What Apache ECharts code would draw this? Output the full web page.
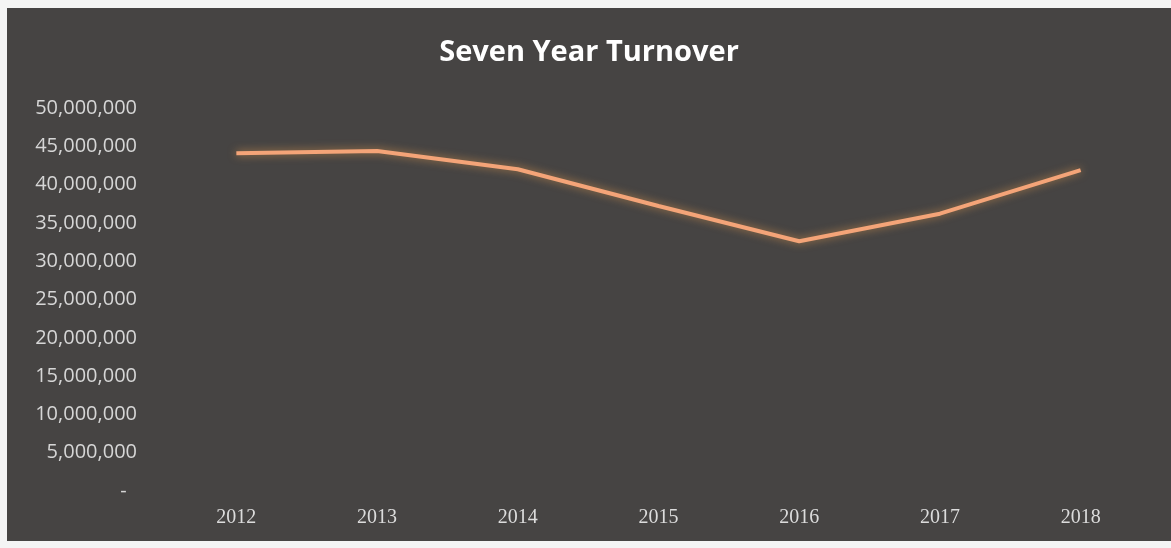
<!DOCTYPE html>
<html>
<head>
<meta charset="utf-8">
<style>
  html, body { margin: 0; padding: 0; background: #f4f4f4; }
  #chart { position: absolute; left: 7px; top: 8px; width: 1164px; height: 533px; background: #464443; }
</style>
<script src="https://cdn.jsdelivr.net/npm/echarts@6/dist/echarts.min.js"></script>
</head>
<body>
<div id="chart"></div>
<script>
const years = ['2012', '2013', '2014', '2015', '2016', '2017', '2018']
const turnover = [44100000, 44400000, 42000000, 37200000, 32600000, 36200000, 41900000]
const yMin = 0
const yMax = 50000000
const yStep = 5000000

const chart = echarts.init(document.getElementById('chart'))

const option = {
  backgroundColor: '#464443',
  title: {
    text: 'Seven Year Turnover',
    left: 'center',
    top: 25,
    textStyle: {
      color: '#ffffff',
      fontFamily: 'Open Sans',
      fontWeight: 'bold',
      fontSize: 29
    }
  },
  grid: {
    left: 159,
    right: 20,
    top: 100,
    bottom: 50
  },
  xAxis: {
    type: 'category',
    data: years,
    boundaryGap: true,
    axisLine: { show: false },
    axisTick: { show: false },
    axisLabel: {
      color: '#dcdcdc',
      fontFamily: 'Liberation Serif',
      fontSize: 20,
      margin: 17
    }
  },
  yAxis: {
    type: 'value',
    min: yMin,
    max: yMax,
    interval: yStep,
    axisLine: { show: false },
    axisTick: { show: false },
    splitLine: { show: false },
    axisLabel: {
      color: '#d6d6d6',
      fontFamily: 'Open Sans',
      fontSize: 20,
      margin: 29,
      formatter: (v) => v === 0 ? '-  ' : v.toLocaleString('en-US')
    }
  },
  series: [{
    type: 'line',
    data: turnover,
    symbol: 'none',
    lineStyle: {
      color: '#f4a478',
      width: 4,
      shadowColor: 'rgba(255, 170, 80, 0.6)',
      shadowBlur: 8
    }
  }]
}

chart.setOption(option)
</script>
</body>
</html>
